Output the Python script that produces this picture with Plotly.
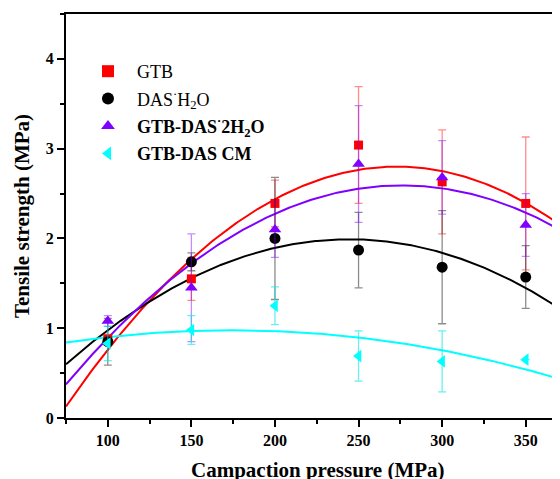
import numpy as np
import plotly.graph_objects as go

pressure = [100, 150, 200, 250, 300, 350]

gtb = [0.88, 1.55, 2.39, 3.04, 2.63, 2.39]
gtb_err = [0.05, 0.24, 0.26, 0.65, 0.58, 0.74]

das = [0.85, 1.74, 2.00, 1.87, 1.68, 1.57]
das_err = [0.26, 0.10, 0.68, 0.42, 0.63, 0.35]

gtb_das = [1.08, 1.45, 2.10, 2.83, 2.68, 2.15]
gtb_das_err = [0.06, 0.60, 0.31, 0.65, 0.41, 0.35]

cm = [0.83, 0.98, 1.25, 0.69, 0.63, 0.65]
cm_err = [0.19, 0.16, 0.21, 0.28, 0.34, 0.0]

PAD = "\u00a0\u00a0"
names = [PAD + "GTB", PAD + "DAS<sup>·</sup>H<sub>2</sub>O",
         PAD + "<b>GTB-DAS<sup>·</sup>2H<sub>2</sub>O</b>", PAD + "<b>GTB-DAS CM</b>"]

FONT = "Liberation Serif"
x_range = [75, 370.5]

series = [
    (gtb, gtb_err, "#FF0000", "rgba(255,0,0,0.45)", "square", 9),
    (das, das_err, "#000000", "rgba(0,0,0,0.45)", "circle", 11),
    (gtb_das, gtb_das_err, "#7F00FF", "rgba(127,0,255,0.45)", "triangle-up", 11),
    (cm, cm_err, "#00FFFF", "rgba(0,230,230,0.6)", "triangle-left", 11),
]

fig = go.Figure()
xfit = np.linspace(x_range[0], x_range[1], 300)
for (vals, err, col, ecol, sym, sz), nm in zip(series, names):
    coef = np.polyfit(pressure, vals, 2)
    fig.add_trace(go.Scatter(x=xfit, y=np.polyval(coef, xfit), mode="lines",
                             line=dict(color=col, width=2), showlegend=False,
                             hoverinfo="skip"))
for i, ((vals, err, col, ecol, sym, sz), nm) in enumerate(zip(series, names)):
    fig.add_trace(go.Scatter(
        x=pressure, y=vals, mode="markers", name=nm, legendgroup=f"g{i}",
        marker=dict(symbol=sym, color=col, size=sz, line=dict(width=0)),
        error_y=dict(type="data", array=err, color=ecol, thickness=1.3, width=4),
    ))

fig.update_layout(
    width=552, height=471,
    margin=dict(l=58, r=0, t=6, b=61),
    paper_bgcolor="white", plot_bgcolor="white",
    font=dict(family=FONT, color="black"),
    showlegend=True,
    legend=dict(x=0.0445, y=0.9035, xanchor="left", yanchor="top",
                bgcolor="rgba(0,0,0,0)", font=dict(size=18, family=FONT),
                tracegroupgap=1, itemsizing="constant"),
    annotations=[dict(text="<b>Campaction pressure (MPa)</b>", xref="paper", yref="paper",
                      x=0.51, y=-0.128, xanchor="center", yanchor="middle",
                      showarrow=False, font=dict(size=21, family=FONT, color="black"))],
)
fig.update_xaxes(
    range=x_range, showline=True, linecolor="black", linewidth=2, mirror=True,
    ticks="outside", ticklen=7, tickwidth=2, tickcolor="black",
    tickvals=[100, 150, 200, 250, 300, 350],
    minor=dict(ticks="outside", ticklen=4, tickwidth=2, tickcolor="black", dtick=25, tick0=75),
    showgrid=False, zeroline=False, automargin=False,
    tickfont=dict(size=16, family=FONT, weight="bold"),
)
fig.update_yaxes(
    range=[0, 4.5], showline=True, linecolor="black", linewidth=2, mirror=False,
    ticks="outside", ticklen=7, tickwidth=2, tickcolor="black",
    tickvals=[0, 1, 2, 3, 4],
    minor=dict(ticks="outside", ticklen=4, tickwidth=2, tickcolor="black", dtick=0.5, tick0=0),
    showgrid=False, zeroline=False, automargin=False,
    tickfont=dict(size=16, family=FONT, weight="bold"),
    title=dict(text="<b>Tensile strength (MPa)</b>", font=dict(size=21, family=FONT), standoff=10),
)

fig.write_html("out.html")
